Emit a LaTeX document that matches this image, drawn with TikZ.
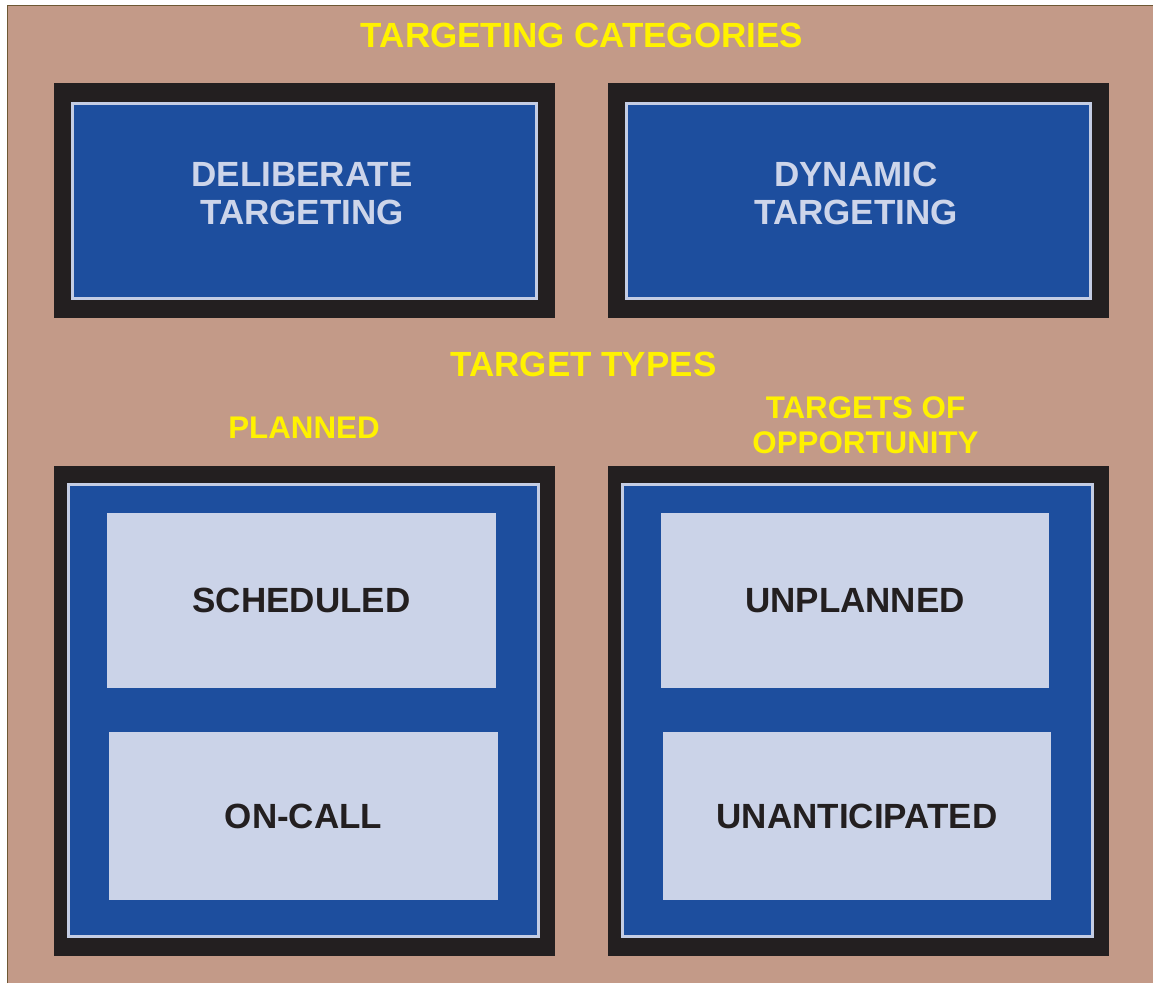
\documentclass[tikz,border=0pt]{standalone}
\usepackage{fontspec}
\setmainfont{Liberation Sans}
\definecolor{bgtan}{RGB}{195,154,136}
\definecolor{frameblack}{RGB}{35,31,32}
\definecolor{panelblue}{RGB}{29,78,158}
\definecolor{edgelight}{RGB}{196,205,228}
\definecolor{boxlight}{RGB}{203,211,232}
\definecolor{titleyellow}{RGB}{255,242,0}
\definecolor{lighttext}{RGB}{205,213,234}
\definecolor{darktext}{RGB}{35,31,32}
\definecolor{edgebrown}{RGB}{110,88,52}
\begin{document}
\begin{tikzpicture}[x=1pt,y=-1pt,
  frame/.style={fill=frameblack, draw=none, inner sep=0pt, outer sep=0pt},
  panel/.style={fill=panelblue, draw=edgelight, line width=3pt, inner sep=0pt},
  itembox/.style={fill=boxlight, draw=none, inner sep=0pt, text=darktext,
    font=\fontsize{35}{38}\selectfont\bfseries},
  heading/.style={text=titleyellow, inner sep=0pt, align=center,
    font=\fontsize{35}{38}\selectfont\bfseries},
  subheading/.style={text=titleyellow, inner sep=0pt, align=center,
    font=\fontsize{31.3}{35}\selectfont\bfseries},
  paneltext/.style={text=lighttext, inner sep=0pt, align=center,
    font=\fontsize{35}{38}\selectfont\bfseries}]
\useasboundingbox (0,0) rectangle (1153,983);
\fill[white] (0,0) rectangle (1153,983);
\fill[bgtan] (7,5) rectangle (1153,983);
\draw[edgebrown, line width=1.5pt] (7.5,983) -- (7.5,5.5) -- (1153,5.5);

% headings
\node[heading] (cattitle) at (582,35) {TARGETING CATEGORIES};
\node[heading] (typetitle) at (583.5,364) {TARGET TYPES};
\node[subheading] (planned) at (304,428) {PLANNED};
\node[subheading] (opportunity) at (865.5,425) {TARGETS OF\\OPPORTUNITY};

% top category boxes
\node[frame, minimum width=501pt, minimum height=235pt] (delframe) at (304.5,200.5) {};
\node[panel, minimum width=464pt, minimum height=195pt] (delpanel) at (304.5,201) {};
\node[paneltext] (deltext) at (302,193.5) {DELIBERATE\\TARGETING};

\node[frame, minimum width=501pt, minimum height=235pt] (dynframe) at (858.5,200.5) {};
\node[panel, minimum width=464pt, minimum height=195pt] (dynpanel) at (858.5,201) {};
\node[paneltext] (dyntext) at (856,193.5) {DYNAMIC\\TARGETING};

% bottom type boxes
\node[frame, minimum width=501pt, minimum height=490pt] (planframe) at (304.5,711) {};
\node[panel, minimum width=470pt, minimum height=452pt] (planpanel) at (303.5,710.5) {};
\node[itembox, minimum width=389pt, minimum height=175pt] (scheduled) at (301.5,600.5) {SCHEDULED};
\node[itembox, minimum width=389pt, minimum height=168pt] (oncall) at (303.5,816) {ON-CALL};

\node[frame, minimum width=501pt, minimum height=490pt] (oppframe) at (858.5,711) {};
\node[panel, minimum width=470pt, minimum height=452pt] (opppanel) at (857.5,710.5) {};
\node[itembox, minimum width=388pt, minimum height=175pt] (unplanned) at (855,600.5) {UNPLANNED};
\node[itembox, minimum width=388pt, minimum height=168pt] (unanticipated) at (857,816) {UNANTICIPATED};
\end{tikzpicture}
\end{document}
